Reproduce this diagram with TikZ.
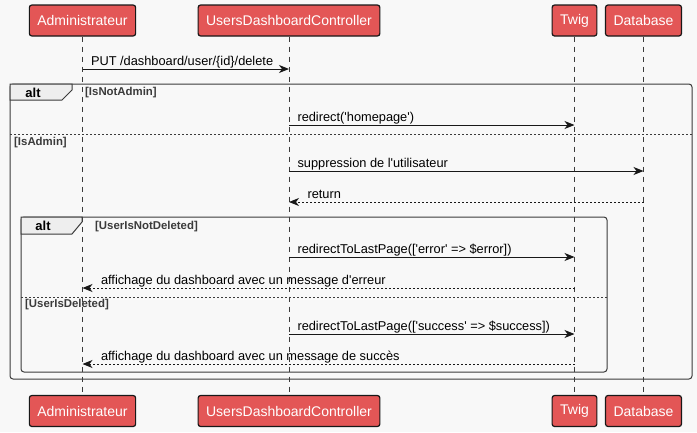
\documentclass[tikz,border=0pt]{standalone}
\usepackage{fontspec}
\setmainfont{Liberation Sans}
\usetikzlibrary{arrows.meta}
\definecolor{bg}{HTML}{F8F8F8}
\definecolor{actor}{HTML}{E35656}
\definecolor{edge}{HTML}{181818}
\definecolor{tabfill}{HTML}{EEEEEE}
\newcommand{\sq}{\textquotesingle}

\begin{document}
\begin{tikzpicture}[x = 1pt, y = -1pt,
		actorbox/.style = {draw = edge, line width = 1.2pt, fill = actor, rounded corners = 2.5pt, text = white, font = \fontsize{14}{16}\selectfont, minimum height = 31pt, inner xsep = 8pt},
		lifeline/.style = {draw = edge!85, line width = 0.8pt, dash pattern = on 5pt off 5pt},
		frame/.style = {draw = edge!85, line width = 1pt},
		sep/.style = {draw = edge!85, line width = 0.8pt, dash pattern = on 2pt off 2pt},
		call/.style = {draw = edge, line width = 1pt, -{Stealth[length = 10pt, width = 8pt, inset = 3pt]}},
		reply/.style = {call, dash pattern = on 2pt off 2pt},
		msg/.style = {font = \fontsize{12.8}{15}\selectfont, inner sep = 0pt, anchor = base west, yshift = 4pt},
		guard/.style = {font = \bfseries\fontsize{11.4}{13}\selectfont, text = edge!85, inner sep = 0pt, anchor = west},
		kind/.style = {font = \bfseries\fontsize{13}{15}\selectfont, inner sep = 0pt},
	]
		\useasboundingbox[fill = bg] (0,0) rectangle (697,432);

		\draw[frame, rounded corners = 3pt] (10,84) rectangle (692,379);
		\draw[frame, fill = tabfill] (10,84) -- (72,84) -- (72,90) -- (62,100) -- (10,100) -- cycle;
		\node[kind] (alt1) at (33,92.5) {alt};
		\node[guard] (g1) at (85,93) {[IsNotAdmin]};
		\draw[sep] (10,134) -- (692,134);
		\node[guard] (g2) at (14,143) {[IsAdmin]};

		\draw[frame, rounded corners = 3pt] (21,217) rectangle (607,372);
		\draw[frame, fill = tabfill] (21,217) -- (82,217) -- (82,222) -- (72,234) -- (21,234) -- cycle;
		\node[kind] (alt2) at (43,226) {alt};
		\node[guard] (g3) at (95,227) {[UserIsNotDeleted]};
		\draw[sep] (21,297) -- (607,297);
		\node[guard] (g4) at (25,305) {[UserIsDeleted]};

		\node[actorbox] (admin) at (82.5,20.5) {Administrateur};
		\node[actorbox] (ctrl) at (289,20.5) {UsersDashboardController};
		\node[actorbox] (twig) at (574.5,20.5) {Twig};
		\node[actorbox] (db) at (643.5,20.5) {Database};
		\node[actorbox] (admin2) at (82.5,411) {Administrateur};
		\node[actorbox] (ctrl2) at (289,411) {UsersDashboardController};
		\node[actorbox] (twig2) at (574.5,411) {Twig};
		\node[actorbox] (db2) at (643.5,411) {Database};

		\draw[lifeline] (admin) -- (admin2);
		\draw[lifeline] (ctrl) -- (ctrl2);
		\draw[lifeline] (twig) -- (twig2);
		\draw[lifeline] (db) -- (db2);

		\coordinate (r1) at (0,69);
		\coordinate (r2) at (0,125);
		\coordinate (r3) at (0,171);
		\coordinate (r4) at (0,202);
		\coordinate (r5) at (0,257);
		\coordinate (r6) at (0,288);
		\coordinate (r7) at (0,334);
		\coordinate (r8) at (0,364);

		\draw[call] (admin |- r1) -- (ctrl |- r1) node[pos = 0, msg, xshift = 8pt] {PUT /dashboard/user/\{id\}/delete};
		\draw[call] (ctrl |- r2) -- (twig |- r2) node[pos = 0, msg, xshift = 8pt] {redirect(\sq homepage\sq)};
		\draw[call] (ctrl |- r3) -- (db |- r3) node[pos = 0, msg, xshift = 8pt] {suppression de l\sq utilisateur};
		\draw[reply] (db |- r4) -- (ctrl |- r4) node[pos = 1, msg, xshift = 18pt] {return};
		\draw[call] (ctrl |- r5) -- (twig |- r5) node[pos = 0, msg, xshift = 8pt] {redirectToLastPage([\sq error\sq\ => \$error])};
		\draw[reply] (twig |- r6) -- (admin |- r6) node[pos = 1, msg, xshift = 18pt] {affichage du dashboard avec un message d\sq erreur};
		\draw[call] (ctrl |- r7) -- (twig |- r7) node[pos = 0, msg, xshift = 8pt] {redirectToLastPage([\sq success\sq\ => \$success])};
		\draw[reply] (twig |- r8) -- (admin |- r8) node[pos = 1, msg, xshift = 18pt] {affichage du dashboard avec un message de succès};
	\end{tikzpicture}
\end{document}
